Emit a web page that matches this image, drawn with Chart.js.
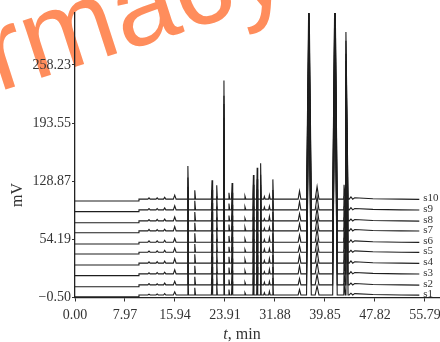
<!DOCTYPE html>
<html>
<head>
<meta charset="utf-8">
<script src="https://cdn.jsdelivr.net/npm/chart.js@4.4.1/dist/chart.umd.min.js"></script>
<style>
html,body{margin:0;padding:0;background:#fff;}
#wrap{width:440px;height:342px;position:relative;}
</style>
</head>
<body>
<div id="wrap"><canvas id="c" width="440" height="342"></canvas></div>
<script>
// ---- data ----
const seriesNames = ["s1","s2","s3","s4","s5","s6","s7","s8","s9","s10"];
const baselineOffsets = [0.3, 11.5, 23.8, 35.7, 47.9, 59.0, 71.6, 82.7, 95.0, 106.9];
const xTickValues = [0, 7.97, 15.94, 23.91, 31.88, 39.85, 47.82, 55.79];
const xTickLabels = ["0.00","7.97","15.94","23.91","31.88","39.85","47.82","55.79"];
const yTickValues = [-0.5, 64.18, 128.87, 193.55, 258.23];
const yTickLabels = ["\u22120.50","54.19","128.87","193.55","258.23"];
// retention times (min) and half widths at base (min)
const peakTimes      = [11.8, 13.1, 14.3, 15.9, 18.0, 19.1, 21.85, 22.6, 23.75, 24.55, 25.05, 27.1, 28.45, 29.05, 29.6, 30.2, 31.0, 31.55, 35.8, 37.3, 38.6, 41.45, 42.9, 43.2, 44.0];
const peakHalfWidths = [0.18, 0.18, 0.18, 0.22, 0.1, 0.12, 0.1, 0.1, 0.09, 0.12, 0.1, 0.15, 0.09, 0.09, 0.09, 0.12, 0.12, 0.09, 0.22, 0.38, 0.3, 0.36, 0.2, 0.34, 0.28];
// peak heights (mV above baseline) per sample
const peakHeights = [
  [1.0,1.2,1.5,3.5,34, 8,18,13,118,6,15,2.5,24,31,36,2.5,4,19,6,230,10,262,13,200,2],
  [1.5,1.3,2.0,4.0,36, 9,20,14,122,6,16,3.0,25,33,38,3.0,4,20,7,228,12,255,14,185,2],
  [1.2,1.5,1.8,4.5,35, 9,19,15,125,7,17,3.5,26,34,37,2.5,5,21,9,233,13,258,15,192,2.5],
  [1.4,1.6,2.2,5.0,38,10,21,14,120,7,18,4.0,27,33,39,3.0,5,22,9,226,14,250,15,188,2.5],
  [1.3,1.4,2.0,4.5,36, 9,20,15,128,6,17,3.0,26,35,38,3.5,4,21,7,229,13,252,16,190,2],
  [1.5,1.5,2.1,4.2,37,10,22,16,124,7,18,3.5,28,34,41,3.0,5,22,8,231,15,248,16,187,2.5],
  [1.6,1.4,1.9,4.8,35, 9,21,15,126,7,17,4.0,27,36,39,3.0,4,21,8,227,14,253,15,189,2.5],
  [1.4,1.6,2.0,4.4,38,10,20,16,130,6,18,3.0,26,35,40,2.5,5,23,8,230,14,249,16,186,2],
  [1.5,1.5,2.2,4.6,36,10,22,15,127,7,19,3.5,28,34,39,3.0,4,22,9,228,15,251,15,188,2.5],
  [1.5,1.5,2.0,4.5,37,10,21,15.5,132,7,18,3.5,27,35,40,3.0,4.5,22,9,240,14,250,16,186,2.5]
];
// baseline level (mV above the sample offset) at given times
const baseTimes  = [0, 10.15, 10.2, 44.6, 47.5, 52.0, 54.9];
const baseLevels = [0, 0, 2, 3.5, 2.5, 2.0, 1.8];
const runLevel = 2; // baseline level during the run

// ---- build datasets ----
const datasets = seriesNames.map((name, i) => {
  const b = baselineOffsets[i];
  const pts = [];
  baseTimes.forEach((t, k) => pts.push({x: t, y: b + baseLevels[k]}));
  peakTimes.forEach((t, j) => {
    const w = peakHalfWidths[j];
    pts.push({x: t - w, y: b + runLevel});
    pts.push({x: t, y: b + runLevel + peakHeights[i][j]});
    pts.push({x: t + w, y: b + runLevel});
  });
  pts.sort((a, c) => a.x - c.x);
  return {
    label: name,
    data: pts,
    borderColor: '#1e1e1e',
    borderWidth: 1.1,
    pointRadius: 0,
    tension: 0,
    fill: false
  };
});

const serif = '"Liberation Serif", "DejaVu Serif", serif';

const watermark = {
  id: 'watermark',
  beforeDraw(chart) {
    const ctx = chart.ctx;
    const F = 114, ang = -18 * Math.PI / 180;
    ctx.save();
    ctx.font = F + 'px "Liberation Sans", Arial, sans-serif';
    const pre = ctx.measureText('Pha').width;
    ctx.translate(-2 - pre * Math.cos(ang), 92 - pre * Math.sin(ang));
    ctx.rotate(ang);
    ctx.fillStyle = '#ff8d5c';
    ctx.textBaseline = 'alphabetic';
    ctx.fillText('Pharmacy', 0, 0);
    ctx.restore();
  }
};

const extras = {
  id: 'extras',
  afterDatasetsDraw(chart) {
    const ctx = chart.ctx;
    const xs = chart.scales.x, ys = chart.scales.y;
    ctx.save();
    ctx.font = '11px ' + serif;
    ctx.fillStyle = '#333';
    ctx.textBaseline = 'middle';
    ctx.textAlign = 'left';
    chart.data.datasets.forEach(ds => {
      const last = ds.data[ds.data.length - 1];
      const px = xs.getPixelForValue(last.x);
      const py = ys.getPixelForValue(last.y);
      ctx.fillText(ds.label, px + 4, py - 1);
    });
    ctx.restore();
  },
  afterDraw(chart) {
    const ctx = chart.ctx;
    ctx.save();
    ctx.fillStyle = '#333';
    ctx.translate(18, 195);
    ctx.rotate(-Math.PI / 2);
    ctx.font = '16px ' + serif;
    ctx.textAlign = 'center';
    ctx.textBaseline = 'middle';
    ctx.fillText('mV', 0, 0);
    ctx.restore();
    ctx.save();
    ctx.fillStyle = '#333';
    ctx.textBaseline = 'alphabetic';
    ctx.font = 'italic 16px ' + serif;
    const tW = ctx.measureText('t').width;
    ctx.font = '16px ' + serif;
    const rW = ctx.measureText(', min').width;
    const x0 = 242 - (tW + rW) / 2;
    ctx.font = 'italic 16px ' + serif;
    ctx.fillText('t', x0, 339);
    ctx.font = '16px ' + serif;
    ctx.fillText(', min', x0 + tW, 339);
    ctx.restore();
  }
};

new Chart(document.getElementById('c'), {
  type: 'line',
  data: { datasets },
  options: {
    responsive: false,
    animation: false,
    devicePixelRatio: 1,
    layout: { padding: { top: 13, right: 0, left: 0, bottom: 0 } },
    plugins: { legend: { display: false }, tooltip: { enabled: false } },
    scales: {
      x: {
        type: 'linear',
        min: 0,
        max: 58.2,
        afterBuildTicks(s) { s.ticks = xTickValues.map(v => ({value: v})); },
        afterFit(s) { s.height = 44.5; s.paddingLeft = 0; s.paddingRight = 0; },
        ticks: {
          callback: (v) => { const k = xTickValues.indexOf(v); return k >= 0 ? xTickLabels[k] : ''; },
          font: { family: serif, size: 14 },
          color: '#333',
          padding: 5,
          maxRotation: 0,
          autoSkip: false
        },
        grid: { drawOnChartArea: false, tickLength: 4, color: '#333' },
        border: { color: '#222', width: 1.3 }
      },
      y: {
        type: 'linear',
        min: -0.5,
        max: 316,
        afterBuildTicks(s) { s.ticks = yTickValues.map(v => ({value: v})); },
        afterFit(s) { s.width = 75; s.paddingTop = 0; s.paddingBottom = 0; },
        ticks: {
          callback: (v) => { const k = yTickValues.indexOf(v); return k >= 0 ? yTickLabels[k] : ''; },
          font: { family: serif, size: 14 },
          color: '#333',
          padding: 1,
          autoSkip: false
        },
        grid: { drawOnChartArea: false, tickLength: 3, color: '#333' },
        border: { color: '#222', width: 1.3 }
      }
    }
  },
  plugins: [watermark, extras]
});
</script>
</body>
</html>
